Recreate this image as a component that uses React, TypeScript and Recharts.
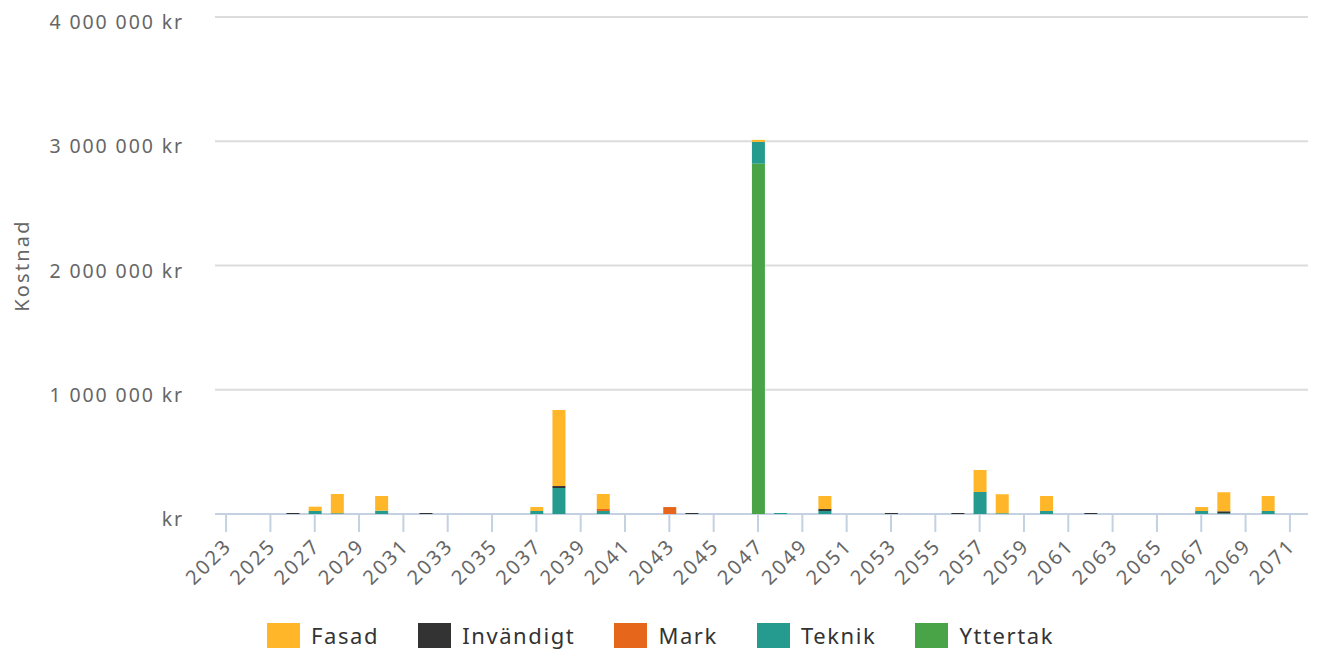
import { Bar, BarChart, CartesianGrid, Legend, XAxis, YAxis } from "recharts";

const YEARS = Array.from({ length: 49 }, (_, i) => String(2023 + i));

// values per year, 2023..2071
const FASAD = [
  0, 0, 0, 0, 35000, 155000, 0, 118000, 0, 0,
  0, 0, 0, 0, 32000, 612000, 0, 121000, 0, 0,
  0, 0, 0, 0, 16000, 0, 0, 105000, 0, 0,
  0, 0, 0, 0, 177000, 153000, 0, 121000, 0, 0,
  0, 0, 0, 0, 32000, 153000, 0, 121000, 0,
];
const INVANDIGT = [
  0, 0, 0, 8000, 0, 0, 0, 0, 0, 8000,
  0, 0, 0, 0, 0, 16000, 0, 0, 0, 0,
  0, 8000, 0, 0, 0, 0, 0, 16000, 0, 0,
  8000, 0, 0, 8000, 0, 0, 0, 0, 0, 8000,
  0, 0, 0, 0, 0, 16000, 0, 0, 0,
];
const MARK = [
  0, 0, 0, 0, 0, 0, 0, 0, 0, 0,
  0, 0, 0, 0, 0, 0, 0, 16000, 0, 0,
  56000, 0, 0, 0, 0, 0, 0, 0, 0, 0,
  0, 0, 0, 0, 0, 0, 0, 0, 0, 0,
  0, 0, 0, 0, 0, 0, 0, 0, 0,
];
const TEKNIK = [
  0, 0, 0, 0, 24000, 6000, 0, 27000, 0, 0,
  0, 0, 0, 0, 24000, 209000, 0, 24000, 0, 0,
  0, 0, 0, 0, 175000, 8000, 0, 24000, 0, 0,
  0, 0, 0, 0, 177000, 6000, 0, 24000, 0, 0,
  0, 0, 0, 0, 24000, 6000, 0, 24000, 0,
];
const YTTERTAK = [
  0, 0, 0, 0, 0, 0, 0, 0, 0, 0,
  0, 0, 0, 0, 0, 0, 0, 0, 0, 0,
  0, 0, 0, 0, 2820000, 0, 0, 0, 0, 0,
  0, 0, 0, 0, 0, 0, 0, 0, 0, 0,
  0, 0, 0, 0, 0, 0, 0, 0, 0,
];

const Y_TICKS = [0, 1000000, 2000000, 3000000, 4000000];

// legend order (top of stack first)
const SERIES = [
  { key: "fasad", name: "Fasad", color: "#FFB629" },
  { key: "invandigt", name: "Invändigt", color: "#333333" },
  { key: "mark", name: "Mark", color: "#E6671B" },
  { key: "teknik", name: "Teknik", color: "#259A8F" },
  { key: "yttertak", name: "Yttertak", color: "#48A446" },
];

const data = YEARS.map((year, i) => ({
  year,
  fasad: FASAD[i],
  invandigt: INVANDIGT[i],
  mark: MARK[i],
  teknik: TEKNIK[i],
  yttertak: YTTERTAK[i],
}));

const FONT = "'Noto Sans', sans-serif";
const AXIS_BLUE = "#c4d1e1";

const formatKr = (v: number) =>
  v === 0 ? "kr" : v.toString().replace(/\B(?=(\d{3})+(?!\d))/g, " ") + " kr";

function XTick({ x, y, payload }: any) {
  return (
    <g transform={`translate(${x + 2},${y + 8})`}>
      <text
        x={0}
        y={0}
        dy="0.35em"
        textAnchor="end"
        transform="rotate(-45)"
        fill="#666"
        fontSize={20}
        letterSpacing={2.4}
        fontFamily={FONT}
      >
        {payload.value}
      </text>
    </g>
  );
}

function YTick({ x, y, payload }: any) {
  return (
    <text
      x={x}
      y={y}
      dy={12}
      textAnchor="end"
      fill="#666"
      fontSize={19.5}
      letterSpacing={1.9}
      fontFamily={FONT}
    >
      {formatKr(payload.value)}
    </text>
  );
}

// grid lines sit under the bars; the zero line doubles as the x axis line
function GridLine(p: any) {
  const isBase = p.y1 > 500;
  return (
    <line
      key={p.key}
      x1={p.x1}
      x2={p.x2}
      y1={p.y1}
      y2={p.y2}
      stroke={isBase ? AXIS_BLUE : "#dcdcdc"}
      strokeWidth={2}
    />
  );
}

function LegendBox() {
  return (
    <div
      style={{
        display: "flex",
        justifyContent: "center",
        alignItems: "center",
        gap: 39,
        height: 32,
        paddingLeft: 13,
        fontFamily: FONT,
      }}
    >
      {SERIES.map((s) => (
        <div key={s.key} style={{ display: "flex", alignItems: "center" }}>
          <span
            style={{ display: "inline-block", width: 33, height: 25, background: s.color, marginRight: 11 }}
          />
          <span style={{ fontSize: 22, color: "#333", letterSpacing: 1.6 }}>{s.name}</span>
        </div>
      ))}
    </div>
  );
}

export default function App() {
  // stacking order bottom -> top is the reverse of the legend
  const stack = [...SERIES].reverse();
  return (
    <div style={{ position: "absolute", left: 0, top: 0, background: "#fff" }}>
      <BarChart
        width={1320}
        height={651}
        data={data}
        margin={{ top: 17, right: 12, left: 0, bottom: 0 }}
        barSize={13}
      >
        <CartesianGrid vertical={false} horizontal={GridLine} />
        <XAxis
          dataKey="year"
          interval={1}
          height={105}
          tickSize={18}
          tickMargin={2}
          padding={{ left: 0, right: 7 }}
          axisLine={false}
          tickLine={{ stroke: AXIS_BLUE, strokeWidth: 2 }}
          tick={<XTick />}
        />
        <YAxis
          width={215}
          domain={[0, 4000000]}
          ticks={Y_TICKS}
          axisLine={false}
          tickLine={false}
          tickSize={0}
          tickMargin={31}
          tick={<YTick />}
          label={{
            value: "Kostnad",
            angle: -90,
            position: "center",
            dx: -86,
            fill: "#666",
            fontSize: 20,
            letterSpacing: 2.2,
            fontFamily: FONT,
          }}
        />
        <Legend verticalAlign="bottom" content={() => <LegendBox />} />
        {stack.map((s) => (
          <Bar
            key={s.key}
            dataKey={s.key}
            name={s.name}
            stackId="a"
            fill={s.color}
            isAnimationActive={false}
          />
        ))}
      </BarChart>
    </div>
  );
}
